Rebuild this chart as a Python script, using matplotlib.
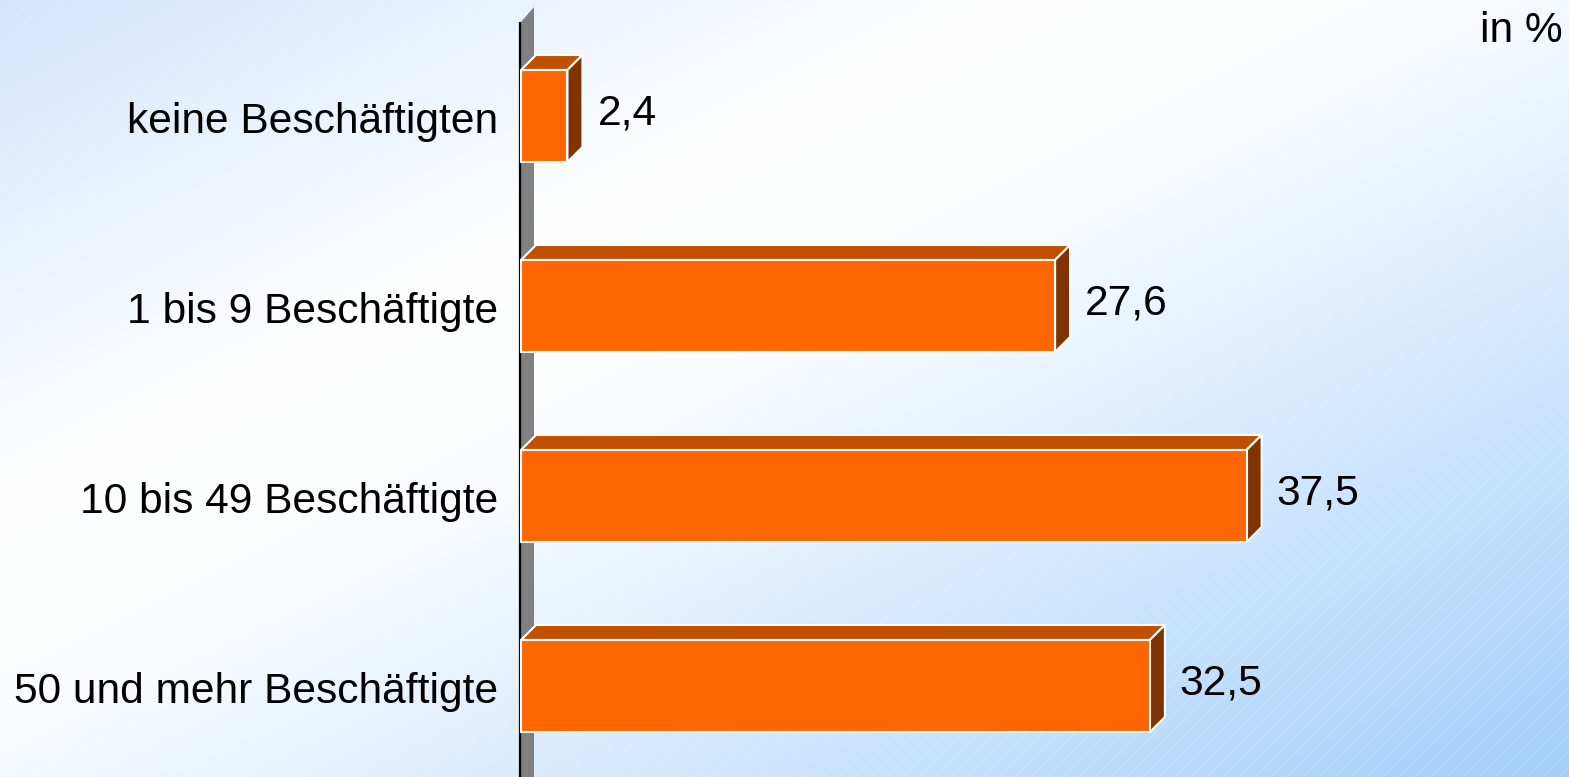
import matplotlib
matplotlib.use("Agg")
import matplotlib.pyplot as plt
import numpy as np
from matplotlib.patches import Polygon

# ----- Data -------------------------------------------------------------------

categories = [
    "keine Beschäftigten",
    "1 bis 9 Beschäftigte",
    "10 bis 49 Beschäftigte",
    "50 und mehr Beschäftigte",
]
values = [2.4, 27.6, 37.5, 32.5]
unit_label = "in %"

# ----- Style ------------------------------------------------------------------

W, H = 1569, 777
DPI = 100
PX_X = 19.35      # pixels per percent
PX_Y = 190.0      # pixels per category step
X0_PX = 521       # pixel position of value 0
Y0_PX = 116       # pixel centre of first bar

FRONT = "#ff6600"
TOP = "#c05000"
SIDE = "#803300"
WALL = "#808080"

plt.rcParams["font.family"] = ["Liberation Sans", "DejaVu Sans"]
FS = 30.6

fig = plt.figure(figsize=(W / DPI, H / DPI), dpi=DPI)

# ----- Background gradient with faint diagonal lines ---------------------------

bg = fig.add_axes([0, 0, 1, 1])
xx, yy = np.meshgrid(np.linspace(0, 1, 400), np.linspace(0, 1, 200))
t = (xx + yy) / 2
stops = [0.0, 0.32, 0.47, 1.0]
cols = np.array([
    [0.83, 0.90, 0.99],
    [1.0, 1.0, 1.0],
    [0.98, 0.99, 1.0],
    [0.64, 0.81, 0.98],
])
img = np.stack([np.interp(t, stops, cols[:, k]) for k in range(3)], axis=-1)
bg.imshow(img, extent=[0, W, H, 0], aspect="auto", interpolation="bilinear")
for c in range(-H, W, 16):
    bg.plot([c, c + H], [H, 0], color="white", lw=0.6, alpha=0.2)
bg.set_xlim(0, W)
bg.set_ylim(H, 0)
bg.axis("off")

# ----- Main axes ----------------------------------------------------------------

ax = fig.add_axes([0, 0, 1, 1])
ax.set_facecolor("none")
ax.set_xlim(-X0_PX / PX_X, (W - X0_PX) / PX_X)
ax.set_ylim((H - Y0_PX) / PX_Y, -Y0_PX / PX_Y)
ax.axis("off")

dx = 15 / PX_X
dy = 15 / PX_Y
bar_h = 92 / PX_Y
wall_dx = 13 / PX_X

# axis wall
wall_top = (22 - Y0_PX) / PX_Y
wall_bot = (H + 20 - Y0_PX) / PX_Y
ax.add_patch(Polygon(
    [(0, wall_bot), (0, wall_top), (wall_dx, wall_top - dy),
     (wall_dx, wall_bot - dy)],
    closed=True, facecolor=WALL, edgecolor="none", zorder=1))
ax.plot([-1 / PX_X, -1 / PX_X], [wall_top, wall_bot], color="black",
        lw=1.6, zorder=2, solid_capstyle="butt")

ypos = np.arange(len(categories))
ax.barh(ypos, values, height=bar_h, color=FRONT, edgecolor="white",
        linewidth=1.5, zorder=4)

for y, v, cat in zip(ypos, values, categories):
    top = y - bar_h / 2
    bot = y + bar_h / 2
    ax.add_patch(Polygon(
        [(0, top), (v, top), (v + dx, top - dy), (dx, top - dy)],
        closed=True, facecolor=TOP, edgecolor="white", lw=1.5, zorder=3))
    ax.add_patch(Polygon(
        [(v, top), (v + dx, top - dy), (v + dx, bot - dy), (v, bot)],
        closed=True, facecolor=SIDE, edgecolor="white", lw=1.5, zorder=3))
    ax.text(v + dx + 15 / PX_X, y + 8.5 / PX_Y, f"{v:.1f}".replace(".", ","),
            ha="left", va="baseline", fontsize=FS, color="black")
    ax.text(-23 / PX_X, y + 16.5 / PX_Y, cat, ha="right", va="baseline",
            fontsize=FS, color="black")

fig.text(1563 / W, 1 - 41.7 / H, unit_label, ha="right", va="baseline",
         fontsize=FS, color="black")

fig.savefig("out.png", dpi=DPI)
